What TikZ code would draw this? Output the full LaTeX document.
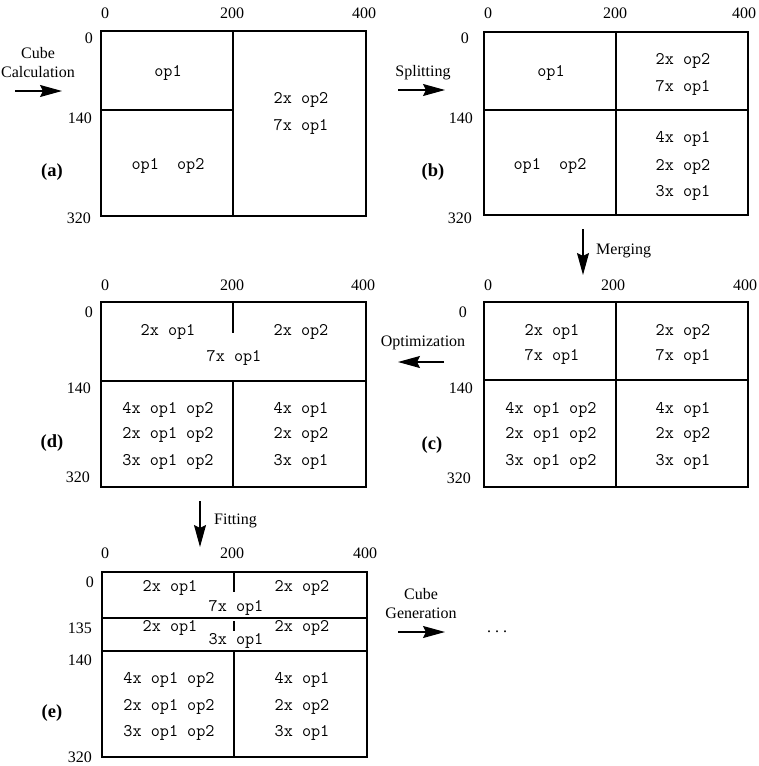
\documentclass[tikz,border=0pt]{standalone}
\usepackage{fontspec}
\setmainfont{Liberation Serif}
\usetikzlibrary{arrows.meta}
\begin{document}
\begin{tikzpicture}[x=1pt,y=-1pt,
 lbl/.style={font=\fontsize{16}{19}\selectfont, inner sep=0pt, align=center},
 tick/.style={lbl},
 ltick/.style={lbl, anchor=east},
 tt/.style={font=\fontsize{17.7}{20}\ttfamily, inner sep=0pt},
 tag/.style={font=\fontsize{18.5}{20}\selectfont\bfseries, inner sep=0pt},
 frame/.style={draw, line width=1.2pt, inner sep=0pt, outer sep=0pt, anchor=north west},
 divider/.style={line width=1.2pt},
 flow/.style={-{Stealth[length=22pt,width=12pt,inset=3pt]}, line width=1.2pt},
]
\useasboundingbox (0,0) rectangle (759,766);

% ---------------- (a) ----------------
\node[frame, minimum width=265pt, minimum height=185pt] (boxA) at (101,31) {};
\draw[divider] (233,31) -- (233,216);
\draw[divider] (101,110) -- (233,110);
\node[tick] (a0) at (105,13) {0};
\node[tick] (a200) at (232,13) {200};
\node[tick] (a400) at (364,13) {400};
\node[ltick] (ay0) at (93,38) {0};
\node[ltick] (ay140) at (92,118) {140};
\node[ltick] (ay320) at (91,218) {320};
\node[tag] (tagA) at (52,172) {(a)};
\node[tt] (a1) at (168,73) {op1};
\node[tt] (a2) at (168,166) {op1\ \ op2};
\node[tt] (a3) at (301,100) {2x op2};
\node[tt] (a4) at (301,127) {7x op1};

% ---------------- (b) ----------------
\node[frame, minimum width=264pt, minimum height=183pt] (boxB) at (484,32) {};
\draw[divider] (616,32) -- (616,215);
\draw[divider] (484,110) -- (748,110);
\node[tick] (b0) at (488,13) {0};
\node[tick] (b200) at (615,13) {200};
\node[tick] (b400) at (744,13) {400};
\node[ltick] (by0) at (469,38) {0};
\node[ltick] (by140) at (473,118) {140};
\node[ltick] (by320) at (472,218) {320};
\node[tag] (tagB) at (433,172) {(b)};
\node[tt] (b1) at (551,73) {op1};
\node[tt] (b2) at (550,166) {op1\ \ op2};
\node[tt] (b3) at (683,61) {2x op2};
\node[tt] (b4) at (683,88) {7x op1};
\node[tt] (b5) at (683,139) {4x op1};
\node[tt] (b6) at (683,167) {2x op2};
\node[tt] (b7) at (683,193) {3x op1};

% ---------------- (c) ----------------
\node[frame, minimum width=264pt, minimum height=185pt] (boxC) at (484,302) {};
\draw[divider] (616,302) -- (616,487);
\draw[divider] (484,380) -- (748,380);
\node[tick] (c0) at (488,285) {0};
\node[tick] (c200) at (613,285) {200};
\node[tick] (c400) at (745,285) {400};
\node[ltick] (cy0) at (467,312) {0};
\node[ltick] (cy140) at (473,388) {140};
\node[ltick] (cy320) at (471,478) {320};
\node[tag] (tagC) at (432,445) {(c)};
\node[tt] (c1) at (552,332) {2x op1};
\node[tt] (c2) at (552,357) {7x op1};
\node[tt] (c3) at (683,332) {2x op2};
\node[tt] (c4) at (683,357) {7x op1};
\node[tt] (c5) at (551,410) {4x op1 op2};
\node[tt] (c6) at (551,435) {2x op1 op2};
\node[tt] (c7) at (551,462) {3x op1 op2};
\node[tt] (c8) at (683,410) {4x op1};
\node[tt] (c9) at (683,435) {2x op2};
\node[tt] (c10) at (683,462) {3x op1};

% ---------------- (d) ----------------
\node[frame, minimum width=265pt, minimum height=185pt] (boxD) at (101,302) {};
\draw[divider] (233,302) -- (233,333);
\draw[divider] (233,381) -- (233,487);
\draw[divider] (101,381) -- (366,381);
\node[tick] (d0) at (105,285) {0};
\node[tick] (d200) at (232,285) {200};
\node[tick] (d400) at (363,285) {400};
\node[ltick] (dy0) at (93,312) {0};
\node[ltick] (dy140) at (91,388) {140};
\node[ltick] (dy320) at (90,477) {320};
\node[tag] (tagD) at (52,443) {(d)};
\node[tt] (d1) at (168,332) {2x op1};
\node[tt] (d2) at (301,332) {2x op2};
\node[tt] (d3) at (234,358) {7x op1};
\node[tt] (d5) at (168,410) {4x op1 op2};
\node[tt] (d6) at (168,435) {2x op1 op2};
\node[tt] (d7) at (168,462) {3x op1 op2};
\node[tt] (d8) at (301,410) {4x op1};
\node[tt] (d9) at (301,435) {2x op2};
\node[tt] (d10) at (301,462) {3x op1};

% ---------------- (e) ----------------
\node[frame, minimum width=265pt, minimum height=185pt] (boxE) at (102,572) {};
\draw[divider] (102,618) -- (367,618);
\draw[divider] (102,651) -- (367,651);
\draw[divider] (234,572) -- (234,592);
\draw[divider] (234,621) -- (234,631);
\draw[divider] (234,651) -- (234,757);
\node[tick] (e0) at (105,553) {0};
\node[tick] (e200) at (232,553) {200};
\node[tick] (e400) at (365,553) {400};
\node[ltick] (ey0) at (94,582) {0};
\node[ltick] (ey135) at (92,628) {135};
\node[ltick] (ey140) at (92,660) {140};
\node[ltick] (ey320) at (92,757) {320};
\node[tag] (tagE) at (52,713) {(e)};
\node[tt] (e1) at (170,588) {2x op1};
\node[tt] (e2) at (302,588) {2x op2};
\node[tt] (e3) at (236,608) {7x op1};
\node[tt] (e4) at (170,628) {2x op1};
\node[tt] (e5) at (302,628) {2x op2};
\node[tt] (e6) at (236,641) {3x op1};
\node[tt] (e7) at (169,680) {4x op1 op2};
\node[tt] (e8) at (169,707) {2x op1 op2};
\node[tt] (e9) at (169,733) {3x op1 op2};
\node[tt] (e10) at (302,680) {4x op1};
\node[tt] (e11) at (302,707) {2x op2};
\node[tt] (e12) at (302,733) {3x op1};

% ---------------- flow arrows ----------------
\coordinate (calcS) at (15,91);
\coordinate (calcE) at (62,91);
\draw[flow] (calcS) -- (calcE);
\node[lbl] (calcL) at (38,62.5) {Cube\\Calculation};

\coordinate (splitS) at (398,90);
\coordinate (splitE) at (445,90);
\draw[flow] (splitS) -- (splitE);
\node[lbl] (splitL) at (423,73) {Splitting};

\coordinate (mergeS) at (583,229);
\coordinate (mergeE) at (583,275);
\draw[flow] (mergeS) -- (mergeE);
\node[lbl, anchor=west] (mergeL) at (596,251) {Merging};

\coordinate (optS) at (444,362);
\coordinate (optE) at (398,362);
\draw[flow] (optS) -- (optE);
\node[lbl] (optL) at (423,343) {Optimization};

\coordinate (fitS) at (200,501);
\coordinate (fitE) at (200,547);
\draw[flow] (fitS) -- (fitE);
\node[lbl, anchor=west] (fitL) at (214,521) {Fitting};

\coordinate (genS) at (398,632);
\coordinate (genE) at (445,632);
\draw[flow] (genS) -- (genE);
\node[lbl] (genL) at (421,604) {Cube\\Generation};
\node[lbl] (dots) at (497,632) {.\ .\ .};
\end{tikzpicture}
\end{document}
